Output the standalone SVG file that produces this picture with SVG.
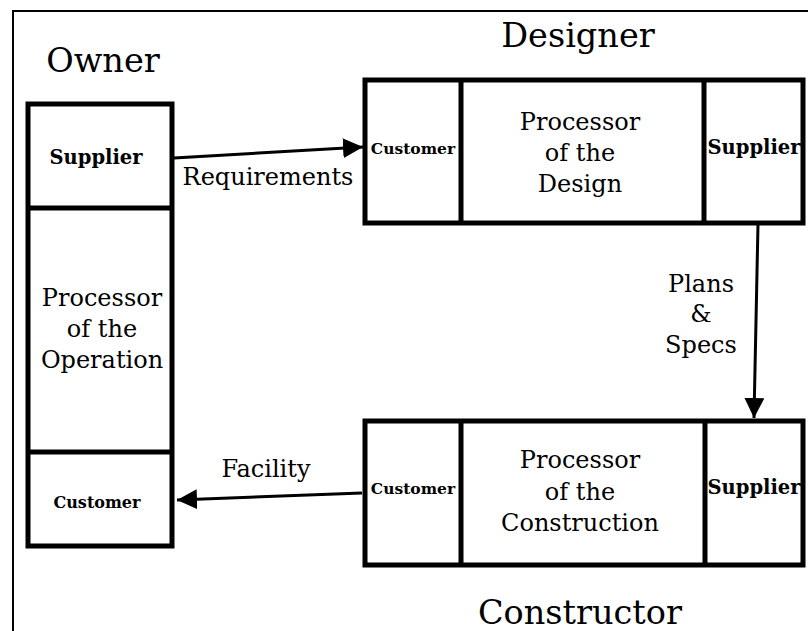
<svg xmlns="http://www.w3.org/2000/svg" width="808" height="631" viewBox="0 0 808 631">
<defs>
<marker id="ah" viewBox="0 0 20 20" refX="20" refY="10" markerWidth="20" markerHeight="20" markerUnits="userSpaceOnUse" orient="auto">
<path d="M0,0 L20,10 L0,20 Z" fill="#000"/>
</marker>
<style>
.box{fill:#fff;stroke:#000;stroke-width:5}
.div{stroke:#000;stroke-width:5}
.frame{fill:none;stroke:#000;stroke-width:2}
.conn{stroke:#000;stroke-width:3;fill:none;marker-end:url(#ah)}
text{font-family:"DejaVu Serif","Liberation Serif",serif;fill:#000;text-anchor:middle}
.title{font-size:33.5px}
.lab{font-size:24px}
.small{font-size:19.5px;font-weight:bold}
.tiny{font-size:16px;font-weight:bold}
.tiny2{font-size:15.5px;font-weight:bold}
</style>
</defs>
<rect width="808" height="631" fill="#fff"/>
<path class="frame" d="M13,631 L13,11 L808,11"/>

<g id="owner">
<text class="title" x="103" y="72">Owner</text>
<rect class="box" x="28" y="104" width="144" height="442"/>
<line class="div" x1="28" y1="208" x2="172" y2="208"/>
<line class="div" x1="28" y1="452" x2="172" y2="452"/>
<text class="small" x="96" y="164">Supplier</text>
<text class="lab" x="102" y="306">Processor</text>
<text class="lab" x="102" y="337">of the</text>
<text class="lab" x="102" y="368">Operation</text>
<text class="tiny" x="97" y="508">Customer</text>
</g>

<g id="designer">
<text class="title" x="578" y="47">Designer</text>
<rect class="box" x="365" y="80" width="438" height="143"/>
<line class="div" x1="461" y1="80" x2="461" y2="223"/>
<line class="div" x1="704" y1="80" x2="704" y2="223"/>
<text class="tiny2" x="413" y="154">Customer</text>
<text class="lab" x="580" y="130">Processor</text>
<text class="lab" x="580" y="161">of the</text>
<text class="lab" x="580" y="192">Design</text>
<text class="small" x="754" y="154">Supplier</text>
</g>

<g id="constructor">
<text class="title" x="580" y="624">Constructor</text>
<rect class="box" x="365" y="421" width="438" height="144"/>
<line class="div" x1="461" y1="421" x2="461" y2="565"/>
<line class="div" x1="705" y1="421" x2="705" y2="565"/>
<text class="tiny2" x="413" y="494">Customer</text>
<text class="lab" x="580" y="468">Processor</text>
<text class="lab" x="580" y="500">of the</text>
<text class="lab" x="580" y="531">Construction</text>
<text class="small" x="754" y="494">Supplier</text>
</g>

<g id="connectors">
<line class="conn" x1="174" y1="158" x2="363" y2="147"/>
<line class="conn" x1="758" y1="224" x2="754" y2="418"/>
<line class="conn" x1="362" y1="493" x2="177" y2="500"/>
<text class="lab" x="268" y="185">Requirements</text>
<text class="lab" x="701" y="292">Plans</text>
<text class="lab" x="701" y="322">&amp;</text>
<text class="lab" x="701" y="353">Specs</text>
<text class="lab" x="266" y="477">Facility</text>
</g>
</svg>
